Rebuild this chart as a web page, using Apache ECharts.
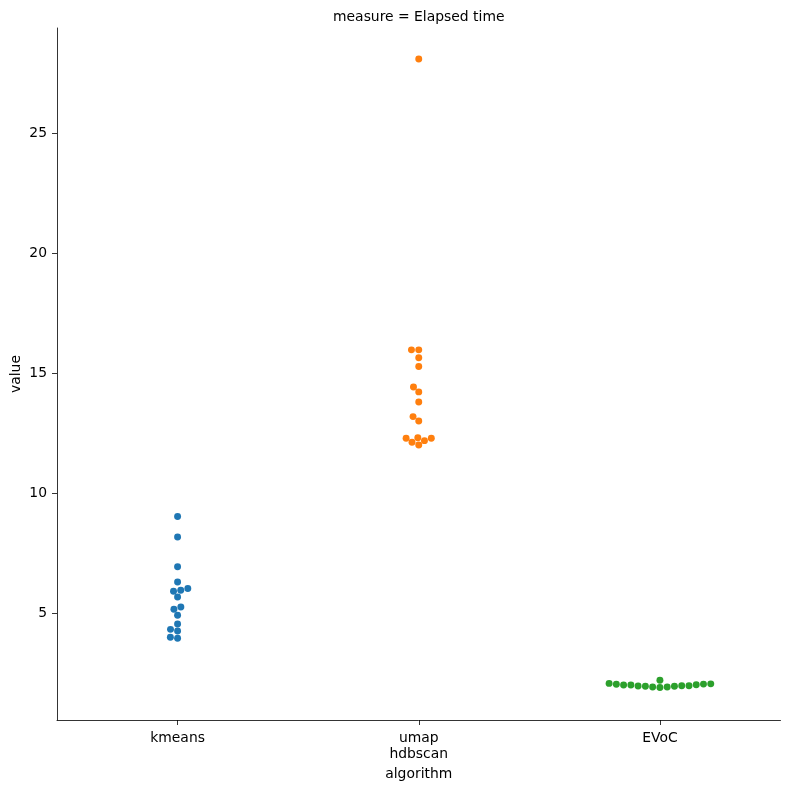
<!DOCTYPE html>
<html><head><meta charset="utf-8">
<script src="https://cdn.jsdelivr.net/npm/echarts@6/dist/echarts.min.js"></script>
<style>html,body{margin:0;padding:0;background:#fff}#c{width:790px;height:789px}</style>
</head><body><div id="c"></div>
<script>
const categories = ['kmeans', 'umap\nhdbscan', 'EVoC'];
const kmeansValues = [9.03, 8.18, 6.94, 6.30, 6.03, 5.96, 5.92, 5.68, 5.26, 5.17, 4.92, 4.55, 4.33, 4.26, 4.00, 3.96];
const umapValues = [28.08, 15.97, 15.97, 15.64, 15.28, 14.42, 14.22, 13.80, 13.19, 13.01, 12.31, 12.29, 12.29, 12.19, 12.12, 12.01];
const evocValues = [2.21, 1.91, 1.93, 1.93, 1.96, 1.96, 1.97, 1.98, 1.98, 2.01, 2.01, 2.02, 2.04, 2.05, 2.06, 2.08];
const yTicks = [5, 10, 15, 20, 25];
const colors = ['#1f77b4', '#ff7f0e', '#2ca02c'];
const yMin = 0.555, yMax = 29.375;
const R = 2.5 * 100 / 72; // marker radius in px (seaborn size 5 at 100 dpi)

const font = 'DejaVu Sans';
const FS = 13.9;
const chart = echarts.init(document.getElementById('c'), null, {renderer: 'canvas'});
const lineStyle = {color: '#000', width: 0.8};

const baseOption = {
  animation: false,
  backgroundColor: '#fff',
  textStyle: {fontFamily: font},
  title: {
    text: 'measure = Elapsed time', left: 418.75, top: 10, padding: 0, textAlign: 'center',
    textStyle: {fontFamily: font, fontSize: FS, fontWeight: 'normal', color: '#000'}
  },
  grid: {left: 57, right: 9.5, top: 28, bottom: 69, containLabel: false, outerBoundsMode: 'none'},
  xAxis: [{
    type: 'category', data: categories, boundaryGap: true,
    axisLine: {show: true, onZero: false, lineStyle},
    axisTick: {show: true, alignWithLabel: true, interval: 0, length: 5, lineStyle},
    axisLabel: {interval: 0, margin: 10, fontSize: FS, lineHeight: 16, color: '#000', fontFamily: font},
    splitLine: {show: false},
    name: 'algorithm', nameLocation: 'middle', nameGap: 47, nameMoveOverlap: false,
    nameTextStyle: {fontSize: FS, color: '#000', fontFamily: font}
  }, {
    type: 'value', min: -0.5, max: 2.5, show: false
  }],
  yAxis: [{
    type: 'value', min: yMin, max: yMax,
    axisLine: {show: true, onZero: false, lineStyle},
    axisTick: {show: true, length: 5, lineStyle, customValues: yTicks},
    axisLabel: {margin: 10, fontSize: FS, color: '#000', fontFamily: font, customValues: yTicks},
    splitLine: {show: false},
    name: 'value', nameLocation: 'middle', nameGap: 34, nameRotate: 90, nameMoveOverlap: false,
    nameTextStyle: {fontSize: FS, color: '#000', fontFamily: font}
  }],
  series: []
};
chart.setOption(baseOption);

// seaborn-style beeswarm layout computed in pixel space
function swarm(values, catIndex) {
  const cx = chart.convertToPixel({xAxisIndex: 1}, catIndex);
  const pts = values.map(v => ({v, y: -chart.convertToPixel({yAxisIndex: 0}, v), r: R}));
  pts.sort((a, b) => a.y - b.y);
  const placed = [];
  for (const p of pts) {
    if (!placed.length) { placed.push({x: cx, y: p.y, r: p.r, v: p.v}); continue; }
    const nb = [];
    for (let j = placed.length - 1; j >= 0; j--) {
      const q = placed[j];
      if (p.y - q.y < p.r + q.r) nb.push(q); else break;
    }
    const cands = [cx];
    let leftFirst = true;
    for (const q of nb) {
      const dy = p.y - q.y;
      const dx = Math.sqrt(Math.max((p.r + q.r) ** 2 - dy * dy, 0)) * 1.05;
      if (leftFirst) cands.push(q.x - dx, q.x + dx); else cands.push(q.x + dx, q.x - dx);
      leftFirst = !leftFirst;
    }
    const order = cands.map((x, i) => ({x, i}))
      .sort((a, b) => (Math.abs(a.x - cx) - Math.abs(b.x - cx)) || (a.i - b.i));
    let chosen = cx;
    for (const c of order) {
      if (nb.every(q => (q.x - c.x) ** 2 + (q.y - p.y) ** 2 >= (q.r + p.r) ** 2)) { chosen = c.x; break; }
    }
    placed.push({x: chosen, y: p.y, r: p.r, v: p.v});
  }
  return placed.map(q => [chart.convertFromPixel({xAxisIndex: 1}, q.x), q.v]);
}

const groups = [kmeansValues, umapValues, evocValues];
chart.setOption({
  series: groups.map((vals, i) => ({
    type: 'scatter', xAxisIndex: 1, yAxisIndex: 0,
    data: swarm(vals, i),
    symbol: 'circle', symbolSize: 2 * R,
    itemStyle: {color: colors[i], opacity: 1, borderWidth: 0},
    emphasis: {disabled: true}, z: 3
  }))
});
</script></body></html>
